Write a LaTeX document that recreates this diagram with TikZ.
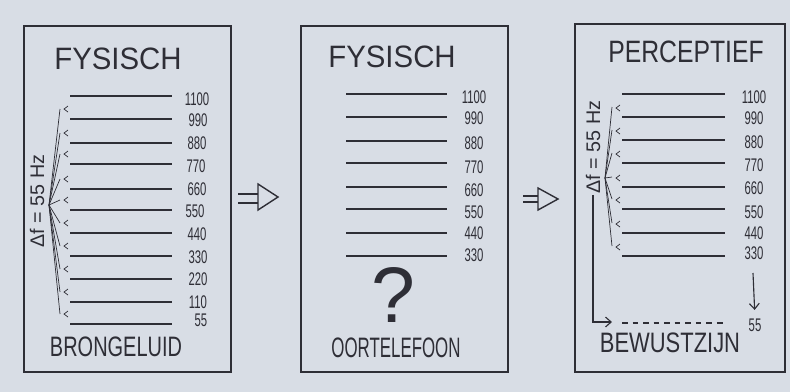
\documentclass[tikz,border=0pt]{standalone}
\usepackage{tikz}
\usepackage{xcolor}
\usepackage{fontspec}
\setmainfont{Liberation Sans}
\definecolor{sketchInk}{HTML}{2E2E36}
\definecolor{sketchPaper}{HTML}{E9ECF1}
\definecolor{sketchPaperDark}{HTML}{D8DDE5}
\usetikzlibrary{arrows.meta}
\tikzset{
  panelBox/.style={draw=sketchInk, line width=1pt},
  levelLine/.style={draw=sketchInk, line width=1.4pt},
  fanLine/.style={draw=sketchInk, line width=0.5pt},
  titleText/.style={text=sketchInk, inner sep=0pt, font=\fontsize{22}{24}\selectfont},
  footText/.style={text=sketchInk, inner sep=0pt, font=\fontsize{20}{22}\selectfont},
  freqText/.style={text=sketchInk, inner sep=0pt, xscale=0.62, font=\fontsize{13}{14}\selectfont},
  deltaText/.style={text=sketchInk, inner sep=1pt, rotate=90, font=\fontsize{14}{16}\selectfont},
  barbTip/.style={-{Straight Barb[length=4pt, width=7pt]}}
}

\begin{document}
\begin{tikzpicture}[x=0.025cm, y=-0.025cm]
  \useasboundingbox (0,0) rectangle (790,391);
  \shade[left color=sketchPaperDark, middle color=sketchPaper, right color=sketchPaperDark] (0,0) rectangle (790,391);

  \draw[panelBox] (24,26) rectangle (231,372);
  \node[titleText, xscale=0.95] (titleA) at (118,59) {FYSISCH};
  \node[footText, xscale=0.71] (footA) at (116,347) {BRONGELUID};
  \node[deltaText] (deltaA) at (37,201) {Δf = 55 Hz};
  \coordinate (fanA) at (49,205);
  \draw[levelLine] (70,96) coordinate (a1100) -- (172,96);
  \node[freqText] (l1100a) at (197,99) {1100};
  \draw[levelLine] (70,119) coordinate (a990) -- (172,119);
  \node[freqText] (l990a) at (198,120) {990};
  \draw[fanLine] (fanA) -- ([shift={(-10,-10)}]a990) ([shift={(-2,-13)}]a990) -- ++(-4,3) -- ++(4,3);
  \draw[levelLine] (70,143) coordinate (a880) -- (172,143);
  \node[freqText] (l880a) at (197,143) {880};
  \draw[fanLine] (fanA) -- ([shift={(-10,-10)}]a880) ([shift={(-2,-13)}]a880) -- ++(-4,3) -- ++(4,3);
  \draw[levelLine] (70,164) coordinate (a770) -- (172,164);
  \node[freqText] (l770a) at (196,166) {770};
  \draw[fanLine] (fanA) -- ([shift={(-10,-10)}]a770) ([shift={(-2,-13)}]a770) -- ++(-4,3) -- ++(4,3);
  \draw[levelLine] (70,189) coordinate (a660) -- (172,189);
  \node[freqText] (l660a) at (197,189) {660};
  \draw[fanLine] (fanA) -- ([shift={(-10,-10)}]a660) ([shift={(-2,-13)}]a660) -- ++(-4,3) -- ++(4,3);
  \draw[levelLine] (70,210) coordinate (a550) -- (172,210);
  \node[freqText] (l550a) at (195,211) {550};
  \draw[fanLine] (fanA) -- ([shift={(-10,-10)}]a550) ([shift={(-2,-13)}]a550) -- ++(-4,3) -- ++(4,3);
  \draw[levelLine] (70,233) coordinate (a440) -- (172,233);
  \node[freqText] (l440a) at (197,234) {440};
  \draw[fanLine] (fanA) -- ([shift={(-10,-10)}]a440) ([shift={(-2,-13)}]a440) -- ++(-4,3) -- ++(4,3);
  \draw[levelLine] (70,256) coordinate (a330) -- (172,256);
  \node[freqText] (l330a) at (198,257) {330};
  \draw[fanLine] (fanA) -- ([shift={(-10,-10)}]a330) ([shift={(-2,-13)}]a330) -- ++(-4,3) -- ++(4,3);
  \draw[levelLine] (70,279) coordinate (a220) -- (172,279);
  \node[freqText] (l220a) at (198,279) {220};
  \draw[fanLine] (fanA) -- ([shift={(-10,-10)}]a220) ([shift={(-2,-13)}]a220) -- ++(-4,3) -- ++(4,3);
  \draw[levelLine] (70,302) coordinate (a110) -- (172,302);
  \node[freqText] (l110a) at (198,302) {110};
  \draw[fanLine] (fanA) -- ([shift={(-10,-10)}]a110) ([shift={(-2,-13)}]a110) -- ++(-4,3) -- ++(4,3);
  \draw[levelLine] (70,324) coordinate (a55) -- (172,324);
  \node[freqText] (l55a) at (201,320) {55};
  \draw[fanLine] (fanA) -- ([shift={(-10,-10)}]a55) ([shift={(-2,-13)}]a55) -- ++(-4,3) -- ++(4,3);

  \draw[sketchInk, line width=1pt] (238,194) -- (258,194) (238,203) -- (258,203);
  \draw[sketchInk, line width=1pt] (258,184) -- (278,197) -- (258,210) -- cycle;

  \draw[panelBox] (301,26) rectangle (508,372);
  \node[titleText, xscale=0.95] (titleB) at (392,57) {FYSISCH};
  \node[footText, xscale=0.6] (footB) at (396,348) {OORTELEFOON};
  \node[text=sketchInk, inner sep=0pt, font=\fontsize{56}{60}\selectfont] (whatB) at (393,295) {?};
  \draw[levelLine] (346,94) -- (447,94);
  \node[freqText] (l1100b) at (474,97) {1100};
  \draw[levelLine] (346,117) -- (447,117);
  \node[freqText] (l990b) at (474,118) {990};
  \draw[levelLine] (346,141) -- (447,141);
  \node[freqText] (l880b) at (474,143) {880};
  \draw[levelLine] (346,163) -- (447,163);
  \node[freqText] (l770b) at (474,167) {770};
  \draw[levelLine] (346,187) -- (447,187);
  \node[freqText] (l660b) at (474,190) {660};
  \draw[levelLine] (346,209) -- (447,209);
  \node[freqText] (l550b) at (474,212) {550};
  \draw[levelLine] (346,233) -- (447,233);
  \node[freqText] (l440b) at (474,233) {440};
  \draw[levelLine] (346,256) -- (447,256);
  \node[freqText] (l330b) at (474,255) {330};

  \draw[sketchInk, line width=1pt] (523,196) -- (538,196) (523,202) -- (538,202);
  \draw[sketchInk, line width=1pt] (538,188) -- (558,199) -- (538,210) -- cycle;

  \draw[panelBox] (575,24) rectangle (785,372);
  \node[titleText, xscale=0.8] (titleC) at (686,52) {PERCEPTIEF};
  \node[footText, xscale=0.78] (footC) at (670,343) {BEWUSTZIJN};
  \node[deltaText] (deltaC) at (593,147) {Δf = 55 Hz};
  \coordinate (fanC) at (605,178);
  \draw[levelLine] (622,94) coordinate (c1100) -- (725,94);
  \node[freqText] (l1100c) at (754,97) {1100};
  \draw[levelLine] (622,117) coordinate (c990) -- (725,117);
  \node[freqText] (l990c) at (754,118) {990};
  \draw[fanLine] (fanC) -- ([shift={(-10,-10)}]c990) ([shift={(-2,-12)}]c990) -- ++(-4,3) -- ++(4,3);
  \draw[levelLine] (622,140) coordinate (c880) -- (725,140);
  \node[freqText] (l880c) at (754,142) {880};
  \draw[fanLine] (fanC) -- ([shift={(-10,-10)}]c880) ([shift={(-2,-12)}]c880) -- ++(-4,3) -- ++(4,3);
  \draw[levelLine] (622,163) coordinate (c770) -- (725,163);
  \node[freqText] (l770c) at (754,165) {770};
  \draw[fanLine] (fanC) -- ([shift={(-10,-10)}]c770) ([shift={(-2,-12)}]c770) -- ++(-4,3) -- ++(4,3);
  \draw[levelLine] (622,187) coordinate (c660) -- (725,187);
  \node[freqText] (l660c) at (754,188) {660};
  \draw[fanLine] (fanC) -- ([shift={(-10,-10)}]c660) ([shift={(-2,-12)}]c660) -- ++(-4,3) -- ++(4,3);
  \draw[levelLine] (622,209) coordinate (c550) -- (725,209);
  \node[freqText] (l550c) at (754,212) {550};
  \draw[fanLine] (fanC) -- ([shift={(-10,-10)}]c550) ([shift={(-2,-12)}]c550) -- ++(-4,3) -- ++(4,3);
  \draw[levelLine] (622,233) coordinate (c440) -- (725,233);
  \node[freqText] (l440c) at (754,233) {440};
  \draw[fanLine] (fanC) -- ([shift={(-10,-10)}]c440) ([shift={(-2,-12)}]c440) -- ++(-4,3) -- ++(4,3);
  \draw[levelLine] (622,256) coordinate (c330) -- (725,256);
  \node[freqText] (l330c) at (754,253) {330};
  \draw[fanLine] (fanC) -- ([shift={(-10,-10)}]c330) ([shift={(-2,-12)}]c330) -- ++(-4,3) -- ++(4,3);
  \draw[levelLine, line width=1pt, dash pattern=on 4pt off 3.5pt] (622,323) -- (725,323);
  \node[freqText] (l55c) at (755,325) {55};
  \coordinate (dashTip) at (612,322);
  \coordinate (downTop) at (753,273);
  \draw[sketchInk, line width=0.8pt, barbTip] (deltaC.west) |- (dashTip);
  \draw[sketchInk, line width=0.8pt, barbTip, shorten >=6pt] (downTop) -- (l55c.north);
\end{tikzpicture}
\end{document}
